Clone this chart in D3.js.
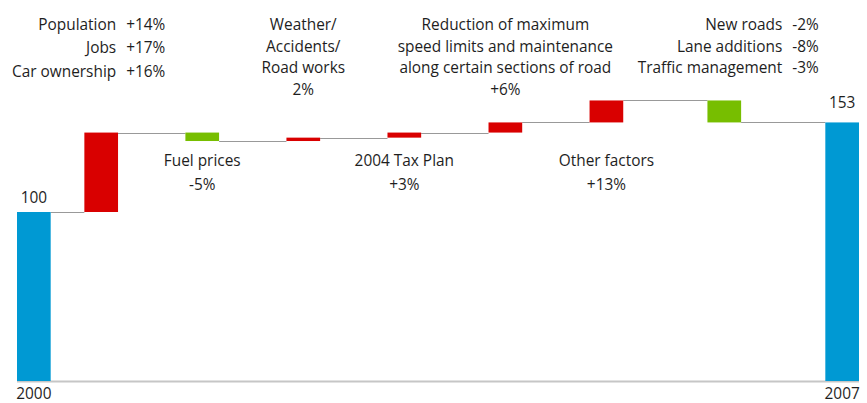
<!DOCTYPE html>
<html>
<head>
<meta charset="utf-8">
<script src="https://cdn.jsdelivr.net/npm/d3@7"></script>
<style>
body { margin: 0; background: #fff; }
text { font-family: "Open Sans", sans-serif; font-size: 15.4px; fill: #1e1e1e; }
</style>
</head>
<body>
<svg id="chart" width="867" height="403"></svg>
<script>
// values (index, 2000 = 100)
var startYear = "2000", endYear = "2007";
var startValue = 100, endValue = 153;
var factorNames = [
    ["Population", "Jobs", "Car ownership"],
    ["Fuel prices"],
    ["Weather/", "Accidents/", "Road works"],
    ["2004 Tax Plan"],
    ["Reduction of maximum", "speed limits and maintenance", "along certain sections of road"],
    ["Other factors"],
    ["New roads", "Lane additions", "Traffic management"]
];
var factorValues = [[14, 17, 16], [-5], [2], [3], [6], [13], [-2, -8, -3]];
var factorPct = [["+14%", "+17%", "+16%"], ["-5%"], ["2%"], ["+3%"], ["+6%"], ["+13%"], ["-2%", "-8%", "-3%"]];

// layout only
var slots = [0, 2, 5, 8, 11, 14, 17, 20.5, 24];
var labelKind = ["table", "below", "above", "below", "above", "below", "table"];
var tableShift = [15, 0, 0, 0, 0, 0, 58];
var tableLineH = [23.3, 0, 0, 0, 0, 0, 21.7];

var colorTotal = "#0099d3", colorUp = "#d90000", colorDown = "#77be00";

var svg = d3.select("#chart");

var x = d3.scaleLinear().domain([0, 25]).range([17, 859]);
var y = d3.scaleLinear().domain([0, 100]).range([381, 212]);
var bw = x(1) - x(0);

// running totals for the waterfall
var steps = [{from: 0, to: startValue, slot: slots[0], color: colorTotal}];
var cum = startValue;
factorValues.forEach(function(vals, i) {
    var d = d3.sum(vals);
    steps.push({from: cum, to: cum + d, slot: slots[i + 1], color: d >= 0 ? colorUp : colorDown, idx: i});
    cum += d;
});
steps.push({from: 0, to: endValue, slot: slots[slots.length - 1], color: colorTotal});

// baseline
svg.append("line")
    .attr("x1", x(0)).attr("x2", x(25))
    .attr("y1", y(0) + 0.5).attr("y2", y(0) + 0.5)
    .style("stroke", "#c6c6c6")
    .style("stroke-width", 2);

// connectors
svg.selectAll(".conn")
    .data(steps.slice(0, -1))
    .enter().append("line")
    .attr("class", "conn")
    .attr("x1", function(d) { return x(d.slot) + bw; })
    .attr("x2", function(d, i) { return x(steps[i + 1].slot); })
    .attr("y1", function(d) { return Math.round(y(d.to)) + 0.5; })
    .attr("y2", function(d) { return Math.round(y(d.to)) + 0.5; })
    .style("stroke", "#999")
    .style("stroke-width", 1.2);

svg.selectAll(".bar")
    .data(steps)
    .enter().append("rect")
    .attr("class", "bar")
    .attr("x", function(d) { return x(d.slot); })
    .attr("width", bw)
    .attr("y", function(d) { return y(Math.max(d.from, d.to)); })
    .attr("height", function(d) { return Math.abs(y(d.from) - y(d.to)); })
    .style("fill", function(d) { return d.color; });

// totals and years
var first = steps[0], last = steps[steps.length - 1];
[[first, startValue, startYear, 9], [last, endValue, endYear, 14]].forEach(function(t) {
    var cx = x(t[0].slot) + bw / 2;
    svg.append("text").attr("x", cx).attr("y", y(t[1]) - t[3])
        .attr("text-anchor", "middle").text(t[1]);
    svg.append("text").attr("x", cx).attr("y", y(0) + 18)
        .attr("text-anchor", "middle").text(t[2]);
});

// factor labels
steps.filter(function(d) { return d.idx !== undefined; }).forEach(function(d) {
    var i = d.idx;
    var cx = x(d.slot) + bw / 2;
    var names = factorNames[i], pct = factorPct[i];
    if (labelKind[i] == "table") {
        names.forEach(function(n, k) {
            var ty = 30 + k * tableLineH[i];
            svg.append("text").attr("x", cx + tableShift[i]).attr("y", ty)
                .attr("text-anchor", "end").text(n);
            svg.append("text").attr("x", cx + tableShift[i] + 10).attr("y", ty)
                .attr("text-anchor", "start").text(pct[k]);
        });
    } else if (labelKind[i] == "above") {
        names.concat(pct).forEach(function(n, k) {
            svg.append("text").attr("x", cx).attr("y", 30 + k * 21.5)
                .attr("text-anchor", "middle").text(n);
        });
    } else {
        names.concat(pct).forEach(function(n, k) {
            svg.append("text").attr("x", cx).attr("y", 166 + k * 23.5)
                .attr("text-anchor", "middle").text(n);
        });
    }
});
</script>
</body>
</html>
